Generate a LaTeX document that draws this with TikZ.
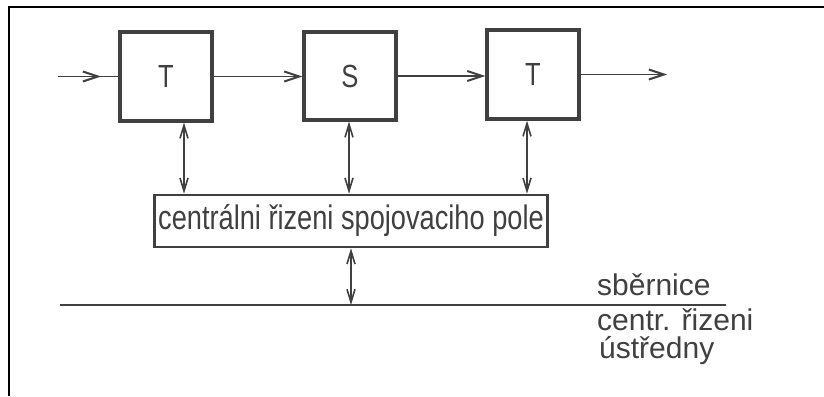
\documentclass[tikz,border=0pt]{standalone}
\usepackage{fontspec}
\setmainfont{Liberation Sans}
\newfontfamily\lettering[FakeStretch=0.8]{Liberation Sans}
\usetikzlibrary{arrows.meta,calc}
\definecolor{ink}{HTML}{404040}
\tikzset{
  blk/.style={draw=ink, line width=3.2pt, inner sep=0pt, text=ink, font=\lettering\fontsize{32}{32}\selectfont},
  ctrl/.style={draw=ink, line width=2.6pt, inner sep=0pt, text=ink, minimum width=393pt, minimum height=52pt, font=\lettering\fontsize{34}{34}\selectfont},
  lbl/.style={inner sep=0pt, anchor=base west, text=ink, font=\fontsize{30}{30}\selectfont},
  arr/.style={draw=ink, line width=1.6pt, -{Straight Barb[length=15pt,width=10pt,line width=2pt]}},
  dbl/.style={draw=ink, line width=1.2pt, {Straight Barb[length=13pt,width=8pt,line width=1.6pt]}-{Straight Barb[length=13pt,width=8pt,line width=1.6pt]}},
  bus/.style={draw=ink, line width=2.6pt},
  frame/.style={draw=black, line width=2.8pt}
}
\begin{document}
\begin{tikzpicture}[x=1pt,y=-1pt]
\useasboundingbox (0,0) rectangle (824,396);
\fill[white] (0,0) rectangle (824,396);
% frame
\draw[frame] (9,396) -- (9,7) -- (824,7);
% blocks
\node[blk, minimum width=92pt, minimum height=89pt] (T1) at (166,76.5) {T};
\node[blk, minimum width=92pt, minimum height=88pt] (S) at (350,76) {S};
\node[blk, minimum width=92pt, minimum height=89pt] (T2) at (533,74.5) {T};
\node[ctrl] (C) at (351,221) {centrálni řizeni spojovaciho pole};
% input / output
\coordinate (in) at (58,76.5);
\coordinate (inhead) at (101,76.5);
\coordinate (out) at (667,74.5);
\draw[draw=ink, line width=1.6pt] (in) -- (T1.west);
\draw[arr] (in) -- (inhead);
\draw[arr] (T1.east) -- (S.west |- T1.east);
\draw[arr] (S.east) -- (T2.west |- S.east);
\draw[arr] (T2.east) -- (out);
% vertical links
\coordinate (a1) at (184,0);
\coordinate (a2) at (349,0);
\coordinate (a3) at (527,0);
\draw[dbl] (T1.south -| a1) -- (C.north -| a1);
\draw[dbl] (S.south -| a2) -- (C.north -| a2);
\draw[dbl] (T2.south -| a3) -- (C.north -| a3);
% bus
\coordinate (busL) at (60,305);
\coordinate (busR) at (726,305);
\draw[bus] (busL) -- (busR);
\coordinate (a4) at (351,0);
\draw[dbl] (C.south -| a4) -- (busL -| a4);
% labels
\node[lbl] (l1) at (597,295) {sběrnice};
\node[lbl] (l2) at (597,330) {centr. řizeni};
\node[lbl] (l3) at (599,358) {ústředny};
\end{tikzpicture}
\end{document}
